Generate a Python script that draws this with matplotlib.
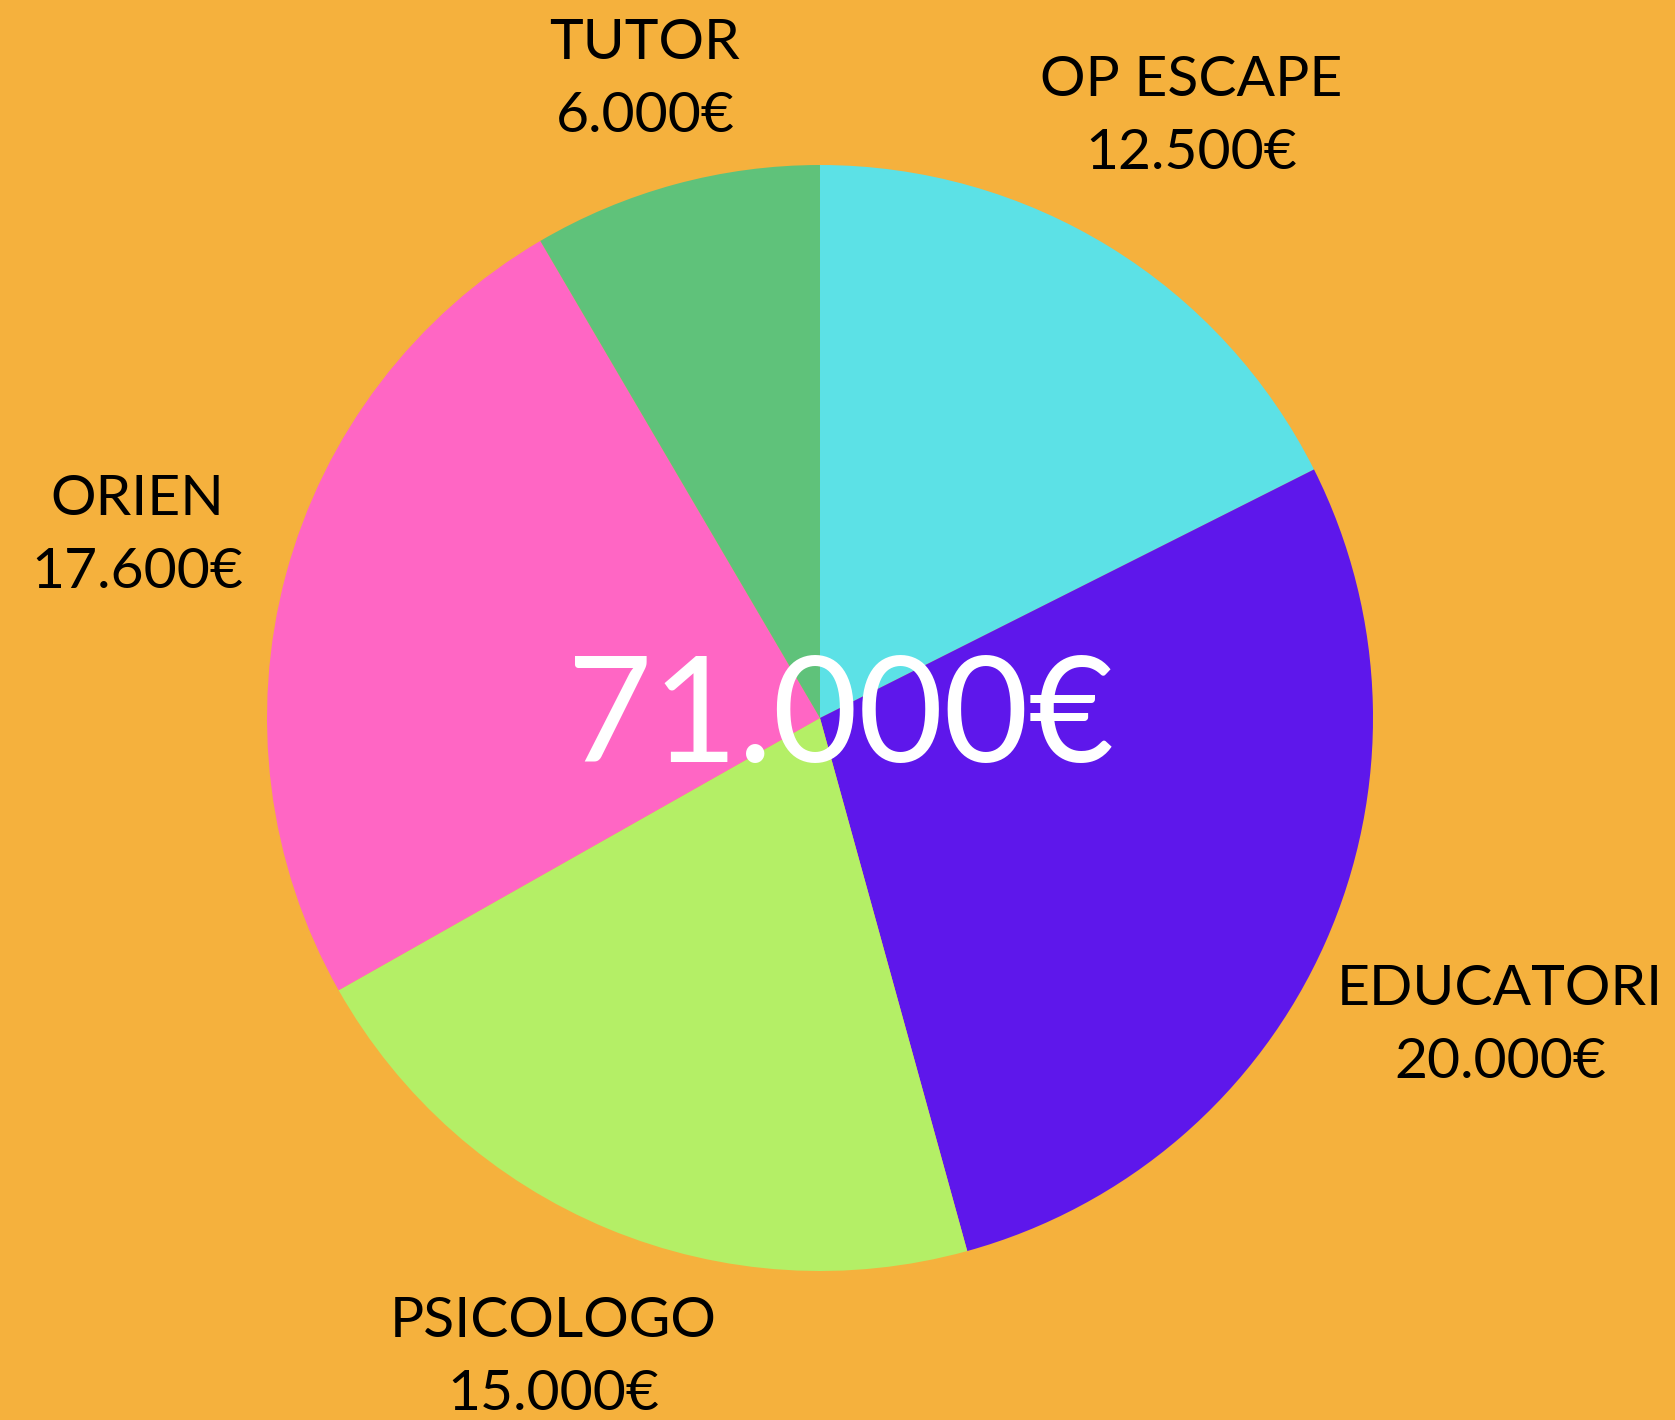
import numpy as np
import matplotlib
matplotlib.use("Agg")
from matplotlib import pyplot as plt

plt.rcParams['font.family'] = ['Lato', 'DejaVu Sans']

labels = ["OP ESCAPE", "EDUCATORI", "PSICOLOGO", "ORIEN", "TUTOR"]
values = [12500, 20000, 15000, 17600, 6000]
value_text = ["12.500€", "20.000€", "15.000€", "17.600€", "6.000€"]
total_text = "71.000€"
colors = ["#5CE1E6", "#5E17EB", "#B4EF66", "#FF66C4", "#5FC27A"]

W, H = 1675, 1420
bg = "#F5B13D"

fig = plt.figure(figsize=(W / 100, H / 100), dpi=100, facecolor=bg)

# pie centre (820, 718) px, radius 553 px
cx, cy, r = 820, 718, 553
ax = fig.add_axes([(cx - r) / W, 1 - (cy + r) / H, 2 * r / W, 2 * r / H])
ax.set_facecolor(bg)
ax.pie(values, colors=colors, startangle=90, counterclock=False,
       radius=1.0, wedgeprops=dict(linewidth=0))
ax.set_xlim(-1, 1)
ax.set_ylim(-1, 1)
ax.set_aspect("equal")
ax.axis("off")

# label block centres in pixels
label_pos = [(1191, 117), (1500, 1026), (553, 1358), (137, 536), (645, 80)]
for name, val, (px, py) in zip(labels, value_text, label_pos):
    fig.text(px / W, 1 - py / H, name + "\n" + val, ha="center", va="center",
             fontsize=41, color="black", linespacing=1.55)

fig.text(841 / W, 1 - 720 / H, total_text, ha="center", va="center",
         fontsize=106, color="white")

fig.savefig("out.png", dpi=100, facecolor=bg)
